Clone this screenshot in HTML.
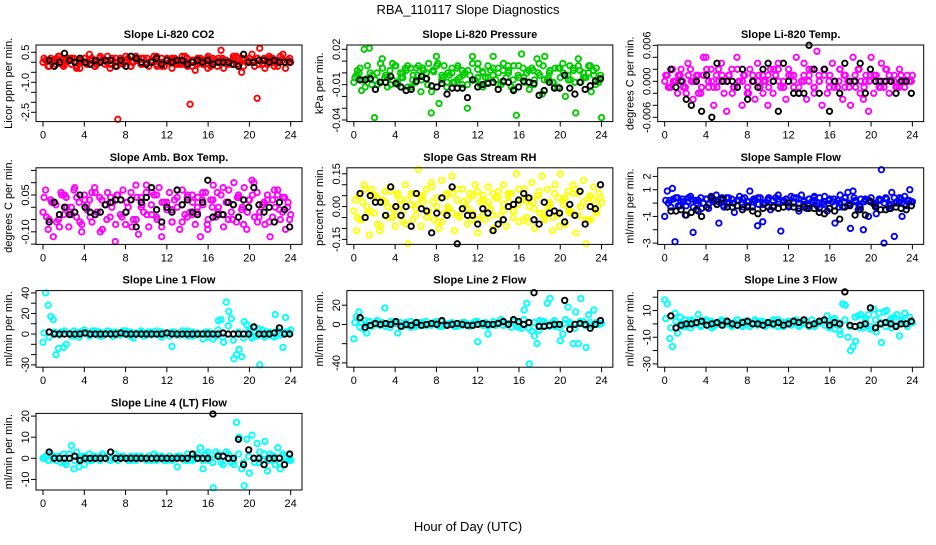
<!DOCTYPE html>
<html><head><meta charset="utf-8"><style>
html,body{margin:0;padding:0;background:#fff;}
svg text{font-family:"Liberation Sans",sans-serif;}
</style></head><body>
<svg id="chart" width="936" height="540" viewBox="0 0 936 540" xmlns="http://www.w3.org/2000/svg">
<rect width="936" height="540" fill="#fff"/>
<text x="468" y="14" font-size="13" text-anchor="middle">RBA_110117  Slope Diagnostics</text>
<text x="468" y="531" font-size="13" text-anchor="middle">Hour of Day (UTC)</text>
</svg>
<script>
const xTicks=[0,4,8,12,16,20,24];
const titles=["Slope Li-820 CO2","Slope Li-820 Pressure","Slope Li-820 Temp.","Slope Amb. Box Temp.","Slope Gas Stream RH","Slope Sample Flow","Slope Line 1 Flow","Slope Line 2 Flow","Slope Line 3 Flow","Slope Line 4 (LT) Flow"];
const yTitles=["Licor ppm per min.","kPa per min.","degrees C per min.","degrees C per min.","percent per min.","ml/min per min.","ml/min per min.","ml/min per min.","ml/min per min.","ml/min per min."];
const colors=["#ff0000","#00cc00","#ff00ff","#ff00ff","#ffff00","#0000ff","#00ffff","#00ffff","#00ffff","#00ffff"];
const yTickVals=[[0.5,0,-0.5,-1,-1.5,-2,-2.5],[0.02,0.01,0,-0.01,-0.02,-0.03,-0.04],[0.006,0.004,0.002,0,-0.002,-0.004,-0.006],[0.15,0.1,0.05,0,-0.05,-0.1,-0.15],[0.15,0.1,0.05,0,-0.05,-0.1,-0.15],[2,1,0,-1,-2,-3],[40,30,20,10,0,-10,-20,-30],[20,0,-20,-40],[20,10,0,-10,-20,-30],[20,10,0,-10]];
const yTickLabels=[["0.5","","","-1.0","","","-2.5"],["0.02","","","-0.01","","","-0.04"],["0.006","","","0.000","","","-0.006"],["","","0.05","","","-0.10",""],["0.15","","","0.00","","","-0.15"],["2","1","","-1","","-3"],["40","","20","","0","","","-30"],["20","0","","-40"],["","10","","-10","","-30"],["20","10","0","-10"]];
const yRefs=[[0.5,7.3,-2.5,67.3],[0.02,4.3,-0.04,75],[0.006,0.3,-0.006,72.3],[0.15,2.6,-0.15,76.3],[0.15,6,-0.15,71.6],[2,8.6,-3,75.3],[40,2.3,-30,74.3],[20,14.6,-40,72.3],[20,6.6,-30,73.3],[20,2.7,-10,66]];

const co2Vals=[0.0,0.1,-0.2,0.2,0.1,-0.1,0.3,0.0,-0.2,0.2,0.1,-0.1,0.2,-0.3,0.1,0.0,0.2,-0.1,0.4,0.1,-0.2,0.0,0.2,0.1,-0.1,0.3,-0.3,0.1,0.0,-2.85,0.2,-0.1,0.1,0.2,-0.2,0.0,0.3,0.1,-0.1,0.2,0.0,-0.2,0.1,0.3,-0.1,0.0,0.2,-0.2,0.1,0.0,-0.3,0.2,0.1,-0.1,0.0,0.3,-0.2,-2.1,0.1,-0.4,0.0,0.2,-0.1,0.1,0.3,-0.2,0.0,0.1,0.2,0.6,-0.3,0.1,0.0,-0.1,0.2,0.3,-0.1,-0.5,0.1,0.0,0.2,0.4,-0.2,-1.8,0.7,0.1,-0.3,-0.1,0.2,0.0,0.1,-0.2,0.3,0.4,-0.3,0.1,0.0];
const co2Vals2=[0.2,-0.2,0.1,0.3,-0.1,0.2,0.0,-0.3,0.2,0.1,-0.2,0.3,0.1,-0.1,0.2,0.0,0.3,-0.2,0.1,0.2,-0.1,0.0,0.3,-0.2,0.1,0.2,-0.1,0.3,0.0,-0.2,0.2,0.1,-0.3,0.2,0.0,0.1,-0.1,0.3,0.2,-0.2,0.0,0.1,-0.1,0.2,0.3,-0.2,0.1,0.0,0.2];
const co2Vals3=[0.1,0.0,0.2,-0.1,0.1,0.2,-0.2,0.1,0.0,0.2,-0.1,0.1,0.0,0.2,-0.2,0.1,0.1,0.0,0.2,-0.1,0.2,0.1,-0.2,0.0,0.2,0.1,0.0,-0.1,0.2,0.1,-0.1,0.0,0.2,0.1,-0.2,0.2,0.0,0.1,-0.1,0.2,0.1,0.0,0.2,-0.1,0.1,0.2,0.0,0.1,0.1];
const presVals=[-0.008,-0.002,0.0,-0.015,0.02,-0.005,0.021,-0.01,-0.038,0.0,-0.008,0.012,-0.004,-0.012,0.002,-0.006,0.006,-0.01,0.0,-0.004,0.004,-0.012,0.004,-0.002,-0.008,0.006,-0.016,0.002,-0.005,0.008,-0.034,0.001,0.014,-0.026,-0.006,0.006,-0.012,-0.002,0.0,-0.008,0.004,-0.004,-0.01,0.0,-0.03,-0.002,0.014,-0.006,0.003,-0.01,0.001,-0.004,-0.008,0.002,0.014,-0.006,0.0,-0.01,0.008,-0.004,0.002,-0.012,0.006,-0.036,-0.004,0.016,-0.008,0.0,-0.014,0.004,-0.006,0.012,-0.002,-0.018,0.014,-0.006,0.002,-0.008,0.004,-0.012,-0.004,0.008,-0.02,-0.002,-0.006,0.004,-0.034,0.012,-0.008,0.0,-0.004,0.006,-0.016,-0.002,0.004,-0.008,-0.038];
const presVals2=[-0.004,0.004,-0.012,0.0,-0.006,0.008,-0.002,-0.01,0.006,-0.004,0.002,-0.012,0.004,-0.006,0.0,-0.016,0.006,-0.002,-0.008,0.004,-0.006,0.002,-0.01,0.008,-0.004,-0.012,0.006,-0.002,0.004,-0.008,0.0,-0.014,0.006,-0.004,0.002,-0.01,0.008,-0.006,0.0,-0.012,0.004,-0.002,0.006,-0.008,0.002,-0.004,0.006,-0.01,-0.002];
const presVals3=[0.002,-0.006,0.006,-0.002,-0.01,0.004,-0.004,0.008,-0.008,0.0,0.006,-0.006,-0.002,0.004,-0.01,0.002,0.008,-0.004,0.0,-0.008,0.006,-0.002,0.002,-0.006,0.008,0.0,-0.004,0.004,-0.01,0.002,0.006,-0.006,-0.002,0.004,-0.008,0.002,0.0,0.006,-0.004,-0.008,0.004,0.0,-0.006,0.002,0.006,-0.004,0.0,0.002,-0.006];
const tempVals=[0,0.001,-0.001,0.002,0,-0.002,0.001,0,-0.001,0.003,0.002,-0.003,0,0.001,-0.002,0.004,0.004,-0.001,0.002,-0.004,0.001,0,0.003,-0.002,-0.005,0.001,0.002,-0.001,0.004,0,-0.004,0.001,-0.002,0.002,0,-0.003,0.003,-0.001,0.001,0,-0.004,0.002,-0.002,0.001,0.003,-0.001,0,-0.003,0.002,0.001,-0.001,0.004,-0.002,0,0.003,-0.003,0.001,0.002,-0.001,0.005,0,-0.004,0.002,-0.002,0.001,0.003,0,-0.001,0.002,-0.003,0.001,0,-0.004,0.004,-0.001,0.002,0,-0.003,0.001,-0.005,0.004,-0.002,0.001,0,0.003,-0.001,0.002,-0.002,0,0.001,-0.001,0.002,0,-0.001,0.001,0,0.001];
const tempVals2=[0.001,-0.001,0,0.002,-0.002,0,0.001,-0.001,0.002,0,-0.001,0.001,0,-0.002,0.002,0,-0.001,0.001,0,-0.002,0.001,0,0.002,-0.001,0,0.001,-0.001,0,0.002,-0.002,0,0.001,-0.001,0,0.002,-0.001,0,0.001,-0.002,0,0.001,0,-0.001,0.002,0,-0.001,0.001,0,0];
const tempVals3=[-0.001,0,0.001,-0.001,0.001,0,-0.002,0.001,0,-0.001,0.002,0,0.001,-0.001,0,0.001,-0.002,0,0.001,0,-0.001,0.002,0,-0.001,0.001,0,-0.002,0.001,0,-0.001,0.001,0.002,0,-0.001,0,0.001,-0.001,0,0.002,-0.001,0,0.001,-0.001,0,0.001,0,-0.001,0,0];
const ambVals=[-0.02,0.07,-0.09,0.03,-0.12,0.01,-0.05,0.06,-0.03,0.04,-0.08,0.0,0.07,-0.04,0.02,-0.1,0.05,-0.01,0.03,-0.06,0.08,-0.02,0.04,-0.09,0.01,0.06,-0.04,0.02,-0.14,0.05,-0.03,0.07,-0.07,0.0,0.03,-0.05,0.09,-0.11,0.04,-0.02,0.06,-0.08,0.01,0.05,-0.04,0.08,-0.12,0.02,-0.01,0.06,-0.06,0.03,0.0,-0.09,0.07,-0.03,0.05,-0.02,0.02,-0.07,0.04,-0.12,0.01,0.06,-0.05,0.03,0.09,-0.04,0.0,0.05,-0.08,0.02,0.07,-0.02,0.1,-0.06,0.04,-0.01,0.08,-0.09,0.03,0.11,-0.04,0.06,-0.02,0.01,-0.07,0.05,-0.12,0.03,0.0,0.07,-0.05,0.04,-0.09,0.02,-0.03];
const ambVals2=[0.04,-0.05,0.02,-0.08,0.05,-0.02,0.08,-0.06,0.03,-0.04,0.06,-0.1,0.01,0.04,-0.07,0.03,-0.02,0.06,-0.05,0.0,0.09,-0.03,0.05,-0.08,0.02,-0.01,0.07,-0.06,0.04,-0.03,0.0,0.06,-0.09,0.03,-0.02,0.08,-0.05,0.01,0.05,-0.07,0.03,0.1,-0.04,0.02,-0.06,0.07,-0.01,0.04,-0.05];
const ambVals3=[-0.04,0.02,-0.06,0.05,0.0,-0.03,0.04,-0.07,0.01,0.06,-0.02,0.03,-0.05,0.0,0.05,-0.04,0.02,-0.08,0.04,0.01,-0.03,0.06,-0.05,0.02,0.0,-0.06,0.04,0.01,-0.04,0.05,-0.02,0.03,-0.07,0.0,0.06,-0.03,0.02,-0.05,0.04,0.0,-0.02,0.05,-0.06,0.01,0.03,-0.04,0.05,-0.02,0.0];
const rhVals=[-0.02,-0.11,0.05,-0.06,0.1,0.0,-0.13,0.08,-0.03,0.04,-0.11,0.02,0.07,-0.05,0.09,-0.01,-0.09,0.05,0.03,-0.07,0.1,-0.17,0.01,0.06,-0.04,0.17,-0.09,0.02,0.08,-0.02,0.11,-0.06,0.04,-0.1,0.12,-0.03,0.06,-0.01,0.14,-0.11,0.03,-0.05,0.08,0.0,-0.08,0.06,-0.03,0.1,-0.12,0.02,0.05,-0.06,0.09,-0.01,-0.1,0.04,0.07,-0.04,0.1,-0.09,0.02,0.06,-0.02,0.15,-0.07,0.03,0.08,-0.05,0.0,0.11,-0.1,0.05,-0.03,0.14,-0.06,0.08,0.01,-0.11,0.1,-0.04,0.15,0.03,-0.08,0.07,-0.02,0.1,-0.12,0.06,0.0,0.12,-0.17,0.04,-0.06,0.09,-0.03,0.06,0.02];
const rhVals2=[0.03,-0.06,0.08,-0.02,0.05,-0.09,0.02,0.07,-0.04,0.01,-0.08,0.06,-0.01,0.04,-0.05,0.09,0.0,-0.07,0.05,-0.03,0.08,-0.01,0.03,-0.06,0.07,-0.04,0.02,0.06,-0.08,0.01,0.05,-0.02,0.08,-0.06,0.03,-0.01,0.07,-0.05,0.02,0.06,-0.09,0.04,-0.03,0.08,0.0,-0.06,0.05,-0.02,0.04];
const rhVals3=[-0.05,0.02,-0.03,0.05,-0.08,0.03,0.0,-0.05,0.06,-0.02,0.03,-0.06,0.01,0.05,-0.03,0.02,-0.07,0.04,0.0,0.06,-0.04,0.02,-0.01,0.05,-0.06,0.03,0.0,-0.04,0.04,-0.02,0.06,-0.05,0.01,0.03,-0.07,0.02,0.05,-0.03,0.0,-0.05,0.04,0.01,-0.02,0.06,-0.04,0.02,-0.06,0.03,0.0];
const flowVals=[-1.0,0.9,0.2,1.1,-2.9,0.4,-0.2,0.3,-0.9,0.1,0.5,-2.2,0.2,-0.6,0.4,0.0,0.3,-0.4,0.5,0.1,0.6,-1.5,0.2,-0.3,0.4,0.0,0.3,-0.7,0.2,0.5,-0.1,0.4,0.1,0.9,-0.3,0.2,-1.7,0.4,-1.4,0.0,0.3,-0.5,0.2,0.4,0.6,-2.1,0.1,0.3,-0.2,0.5,0.0,0.4,-0.6,0.6,0.2,-0.4,0.3,0.1,0.5,-0.2,0.4,0.0,0.5,-0.6,0.3,0.1,-1.5,0.2,0.6,-0.3,0.4,0.8,-1.9,0.9,0.1,-0.5,0.3,-2.0,0.2,-1.0,0.4,0.0,-0.8,0.2,2.5,-3.0,0.3,-0.4,0.8,-2.5,0.1,0.4,-1.0,0.5,0.2,1.0,0.1];
const flowVals2=[0.2,-0.3,0.4,0.1,-0.2,0.3,0.0,-0.4,0.3,0.2,-0.1,0.4,0.0,-0.3,0.2,0.3,-0.2,0.1,0.4,-0.1,0.2,-0.3,0.3,0.1,-0.2,0.4,0.0,-0.1,0.3,0.2,-0.4,0.1,0.3,-0.2,0.0,0.4,-0.1,0.2,-0.3,0.3,0.1,-0.2,0.2,0.4,-0.1,0.0,0.3,-0.2,0.1];
const flowVals3=[0.0,0.3,-0.2,0.1,0.4,-0.3,0.2,0.0,-0.1,0.3,0.1,-0.2,0.4,0.0,0.2,-0.3,0.1,0.3,-0.1,0.0,0.4,-0.2,0.1,0.2,-0.3,0.0,0.3,0.1,-0.2,0.4,0.0,-0.1,0.2,0.3,-0.3,0.1,0.0,0.4,-0.2,0.1,0.2,-0.1,0.3,0.0,-0.2,0.4,0.1,-0.1,0.2];
const l1Vals=[-8,40,28,17,14,-20,-14,2,-13,-10,1,-2,3,0,-3,2,4,1,-2,3,0,-1,2,-2,1,3,0,-2,2,1,-1,3,0,-1,2,-4,1,0,3,-2,1,2,-1,0,3,-1,2,0,1,-2,-12,2,0,-1,3,1,-2,0,2,-1,1,0,-5,2,-3,1,0,-2,13,14,-8,31,22,15,-24,-20,-15,-22,12,9,2,-4,6,-2,-30,4,-3,2,1,-2,19,3,-1,-13,16,2,4];
const l1Vals2=[1,-3,2,-1,3,0,-2,2,1,-1,3,-2,0,2,-1,1,3,-2,0,1,-1,2,0,-3,1,2,-1,0,3,-2,1,0,2,-5,4,-3,8,-6,2,-4,3,-2,5,-1,2,-3,1,2,0];
const l2Vals=[-15,8,13,2,-5,-9,3,-2,1,4,-1,2,17,0,-3,1,3,-9,2,-2,1,-1,3,0,-2,2,1,-1,3,0,-1,2,1,-2,3,0,-1,1,2,-2,1,0,-1,2,0,-2,1,3,-18,1,-1,2,-10,0,3,-1,2,5,-1,1,0,-3,5,-2,1,-4,15,22,-41,-7,-12,-20,4,3,-1,22,27,2,-2,0,-17,-10,5,18,0,-20,13,-20,27,3,-24,10,-1,15,2,0,1];
const l2Vals2=[2,-3,4,-1,2,0,-2,3,1,-1,2,-3,0,2,-1,1,3,-2,0,1,-2,2,0,-1,3,1,-2,0,2,-1,1,3,-3,5,-4,2,-6,3,-2,4,-3,1,2,-4,3,-1,2,0,1];
const l3Vals=[18,15,-11,-17,8,-7,5,-2,3,1,-3,2,0,7,-2,1,3,-1,2,-2,0,1,3,-1,2,0,-2,1,3,0,-1,2,1,-2,0,3,-1,1,2,-2,0,1,-1,2,3,0,-2,1,2,-1,0,3,-2,1,0,2,-1,3,-2,0,1,2,-1,6,-2,3,-4,1,-8,15,14,-10,-20,-17,-13,6,7,-3,4,7,-2,11,-6,8,-14,9,10,2,-3,5,7,-9,3,8,-2,5,1];
const l3Vals2=[4,-3,2,0,-2,3,1,-1,2,-3,0,2,1,-1,3,-2,0,1,2,-1,0,3,-2,1,0,2,-1,3,-2,0,1,2,-3,4,-5,3,-2,5,-3,2,-4,3,1,-2,4,-1,2,0,1];
const l4Vals=[0,1,-1,2,0,-1,1,-2,2,-3,0,6,-5,3,-4,1,-3,0,2,-1,1,0,-1,2,0,1,-1,0,2,-1,0,1,0,-1,1,0,-1,0,1,0,-1,1,0,2,-1,0,1,-1,0,1,-1,0,-4,1,0,-1,2,0,-1,1,0,5,-5,2,-1,0,-14,3,2,-2,1,3,0,-2,-3,17,10,-5,-13,9,-7,11,-2,7,3,-1,8,-6,2,1,-3,5,-5,2,0,-1,-1];
const l4Vals2=[0,-1,1,0,-2,2,-1,0,1,-1,0,1,0,-1,0,1,0,-1,1,0,0,-1,1,0,-1,0,1,0,-1,0,2,-1,3,-2,1,-3,2,-1,2,-2,1,0,-2,2,-1,1,-2,1,0];
const mainSeries=[co2Vals,presVals,tempVals,ambVals,rhVals,flowVals,l1Vals,l2Vals,l3Vals,l4Vals];
const secondSeries=[co2Vals2,presVals2,tempVals2,ambVals2,rhVals2,flowVals2,l1Vals2,l2Vals2,l3Vals2,l4Vals2];
const thirdSeries=[co2Vals3,presVals3,tempVals3,ambVals3,rhVals3,flowVals3,[],[],[],[]];

const co2Blk=[0.1,-0.2,0.0,0.45,0.1,0.0,0.2,0.0,-0.1,0.1,0.0,0.1,0.1,-0.2,0.1,-0.2,0.3,0.2,0.0,-0.1,0.0,0.2,-0.1,0.1,0.0,0.1,0.1,-0.1,0.0,0.1,0.0,0.1,-0.1,0.0,0.0,0.0,-0.1,-0.2,0.4,0.0,0.0,0.1,0.1,0.0,0.1,0.0,0.0,0.0];
const presBlk=[-0.006,-0.006,-0.005,-0.014,-0.008,-0.008,-0.003,-0.009,-0.012,-0.015,-0.014,-0.007,-0.003,-0.005,-0.011,-0.012,-0.009,-0.018,-0.013,-0.013,-0.013,-0.021,-0.006,-0.012,-0.01,-0.009,-0.008,-0.014,-0.007,-0.008,-0.015,-0.012,-0.007,-0.008,-0.009,-0.019,-0.015,-0.008,-0.013,-0.013,-0.002,-0.013,-0.018,-0.008,-0.014,-0.011,-0.007,-0.005];
const tempBlk=[0.002,-0.001,0,-0.003,-0.004,0,-0.005,0.001,-0.006,0.003,0,0,0,-0.001,0.002,-0.003,0,-0.001,0.002,0.003,0,-0.005,0.003,0,-0.002,-0.002,-0.002,0.006,0.002,-0.002,0.002,-0.005,0,-0.002,0.003,0,0,0.003,-0.002,0.002,0,0,0,0,-0.002,0,0,-0.002];
const ambBlk=[-0.06,0.02,-0.03,0.0,-0.03,-0.02,0.05,0.0,-0.02,-0.03,-0.02,0.01,0.02,0.03,0.03,-0.02,0.03,-0.08,0.02,0.04,0.08,-0.01,-0.06,0.0,-0.02,0.07,0.01,0.03,-0.02,-0.03,0.02,0.11,-0.04,-0.03,-0.03,0.02,0.01,-0.04,0.03,0.0,0.08,0.01,-0.02,0.0,-0.06,0.02,-0.01,-0.08];
const rhBlk=[0.06,-0.05,0.05,0.02,0.02,-0.04,0.09,0.0,-0.04,0.0,-0.09,0.06,-0.01,-0.02,-0.12,-0.03,0.04,-0.04,0.09,-0.17,-0.01,-0.04,-0.04,-0.08,-0.01,-0.03,-0.11,-0.08,-0.06,0.0,0.01,0.03,0.06,0.04,-0.06,-0.08,0.02,-0.03,-0.02,-0.03,-0.07,0.01,-0.04,0.07,-0.08,0.0,-0.01,0.1];
const flowBlk=[-0.6,-0.6,-0.5,-0.9,-0.7,-0.5,-1.0,-0.3,0.4,-0.1,0.3,-0.3,-0.3,-0.2,-0.5,-0.3,-0.6,-0.8,-0.4,-0.3,-0.3,-0.4,-0.3,0.0,-0.3,-0.4,-0.3,-0.4,-0.4,-0.7,-0.8,-0.4,-0.6,-1.2,-0.3,-0.2,-0.9,-0.5,-0.9,0.1,-0.3,-0.5,-0.5,-0.4,-0.3,-0.4,-0.5,-0.2];
const l1Blk=[2,0,0,0,0,0,0,1,0,0,0,0,0,0,1,0,0,0,0,0,0,0,0,1,0,0,0,0,0,0,0,0,0,0,1,0,0,0,0,0,7,0,0,0,1,6,0,0];
const l2Blk=[7,-3,-1,1,0,1,0,3,-2,0,-1,2,-1,0,1,0,4,-1,0,1,0,-1,-1,0,1,0,0,1,3,0,5,3,0,2,33,-2,-2,-1,0,0,25,-5,0,1,0,-4,0,4];
const l3Blk=[6,-3,-1,0,0,1,2,-1,0,1,-1,2,0,-1,1,2,0,0,-1,1,0,1,-1,0,2,1,3,-1,0,2,3,-1,1,0,24,-1,-2,-1,0,12,-3,0,1,0,-2,0,0,2];
const l4Blk=[3,0,0,0,0,1,-1,0,0,0,0,0,3,0,0,0,0,0,0,0,0,0,0,0,0,0,0,0,2,0,0,0,21,1,1,0,0,9,-3,4,0,0,-3,0,0,0,-3,2];
const blackSeries=[co2Blk,presBlk,tempBlk,ambBlk,rhBlk,flowBlk,l1Blk,l2Blk,l3Blk,l4Blk];

const svg=document.getElementById('chart');
const NS='http://www.w3.org/2000/svg';
function mk(tag,attrs,parent){const e=document.createElementNS(NS,tag);for(const k in attrs)e.setAttribute(k,attrs[k]);(parent||svg).appendChild(e);return e;}
const BOXW=266,BOXH=76.6;
for(let p=0;p<10;p++){
  const col=p%3,row=Math.floor(p/3);
  const L=36+col*310.85,T=45+row*122.8;
  const g=mk('g',{});
  
  
  const r=yRefs[p];
  const yS=v=>T+r[1]+(r[0]-v)*(r[3]-r[1])/(r[0]-r[2]);
  const xS=h=>L+7+h*10.32;
  const t=mk('text',{x:L+BOXW/2,y:T-7,'font-size':11,'font-weight':'bold','text-anchor':'middle'},g);
  t.textContent=titles[p];
  
  
  const yt=mk('text',{transform:`translate(${L-24},${T+BOXH/2}) rotate(-90)`,'font-size':11,'text-anchor':'middle'},g);
  yt.textContent=yTitles[p];
  
  
  xTicks.forEach(h=>{
    mk('line',{x1:xS(h),x2:xS(h),y1:T+BOXH,y2:T+BOXH+5,stroke:'#000','stroke-width':1},g);
    const tl=mk('text',{x:xS(h),y:T+BOXH+17,'font-size':11,'text-anchor':'middle'},g);
    tl.textContent=String(h);
    
    
  });
  yTickVals[p].forEach((v,i)=>{
    const y=yS(v);
    mk('line',{x1:L-5,x2:L,y1:y,y2:y,stroke:'#000','stroke-width':1},g);
    if(yTickLabels[p][i]){
      const tl=mk('text',{transform:`translate(${L-7},${y}) rotate(-90)`,'font-size':11,'text-anchor':'middle'},g);
      tl.textContent=yTickLabels[p][i];
      
      
    }
  });
  const pts=mk('g',{fill:'none','stroke-width':1.9},g);
  const drawSeries=(vals,x0,x1,color,name)=>{
    vals.forEach((v,i)=>{
      const h=vals.length>1?x0+i*(x1-x0)/(vals.length-1):x0;
      const c=mk('circle',{cx:xS(h),cy:yS(v),r:2.7,stroke:color},pts);
      
      
    });
  };
  drawSeries(thirdSeries[p],0.35,23.7,colors[p],'point-third');
  drawSeries(secondSeries[p],0.1,23.9,colors[p],'point-secondary');
  drawSeries(mainSeries[p],0,24,colors[p],'point');
  drawSeries(blackSeries[p],0.6,23.9,'#000','point-black');
  const b=mk('rect',{x:L,y:T,width:BOXW,height:BOXH,fill:'none',stroke:'#000','stroke-width':1},g);
  
  
}
</script>
</body></html>
